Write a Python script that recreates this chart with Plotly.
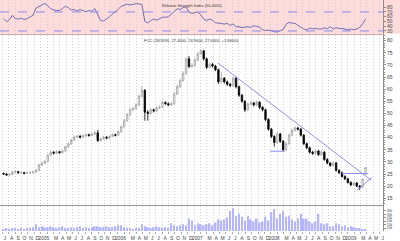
import pandas as pd
import plotly.graph_objects as go

# ---------------- data ----------------
bar_dates = pd.date_range(end="2009-03-26", periods=124, freq="14D")

closes = [25.0, 24.6, 24.8, 25.8, 26.0, 25.5, 25.6, 25.3, 25.5, 25.6,
          25.8, 26.5, 28.7, 29.5, 30.2, 32.8, 34.0, 33.6, 34.2, 33.8,
          34.5, 36.2, 37.5, 39.0, 40.3, 40.6, 40.2, 40.8, 41.2, 40.9,
          41.5, 42.0, 38.8, 39.5, 40.2, 39.8, 40.5, 41.2, 41.0, 42.5,
          44.5, 47.0, 49.5, 51.5, 52.0, 53.5, 57.0, 59.5, 50.5, 50.0,
          51.5, 51.0, 52.3, 52.6, 54.5, 54.0, 53.5, 54.0, 58.0, 61.0,
          63.5, 66.5, 72.5, 69.3, 69.8, 72.0, 74.5, 75.8, 72.5, 69.0,
          70.2, 69.5, 68.0, 63.0, 64.5, 63.0, 62.0, 61.5, 64.5, 61.0,
          57.5, 55.0, 51.5, 53.8, 54.3, 53.5, 54.6, 52.5, 51.5, 47.5,
          43.5, 40.5, 38.0, 41.5, 38.5, 35.0, 37.5, 41.0, 43.0, 44.0,
          43.5, 41.0, 37.5, 35.8, 34.0, 33.5, 34.5, 33.0, 34.0, 31.0,
          29.5, 28.5, 29.5, 26.5, 25.5, 24.0, 23.0, 21.5, 20.5, 21.3,
          20.0, 19.5, 22.8, 27.64]

opens = [25.2, 25.0, 24.6, 24.8, 25.8, 26.0, 25.5, 25.6, 25.3, 25.5,
         25.6, 25.8, 26.5, 28.7, 29.5, 30.2, 32.8, 34.0, 33.6, 34.2,
         33.8, 34.5, 36.2, 37.5, 39.0, 40.3, 40.6, 40.2, 40.8, 41.2,
         40.9, 41.5, 42.0, 38.8, 39.5, 40.2, 39.8, 40.5, 41.2, 41.0,
         42.5, 44.5, 47.0, 49.5, 51.5, 52.0, 53.5, 57.0, 59.5, 50.5,
         50.0, 51.5, 51.0, 52.3, 52.6, 54.5, 54.0, 53.5, 54.0, 58.0,
         61.0, 63.5, 66.5, 72.5, 69.3, 69.8, 72.0, 74.5, 75.8, 72.5,
         69.0, 70.2, 69.5, 68.0, 63.0, 64.5, 63.0, 62.0, 61.5, 64.5,
         61.0, 57.5, 55.0, 51.5, 53.8, 54.3, 53.5, 54.6, 52.5, 51.5,
         47.5, 43.5, 40.5, 38.0, 41.5, 38.5, 35.0, 37.5, 41.0, 43.0,
         44.0, 43.5, 41.0, 37.5, 35.8, 34.0, 33.5, 34.5, 33.0, 34.0,
         31.0, 29.5, 28.5, 29.5, 26.5, 25.5, 24.0, 23.0, 21.5, 20.5,
         21.3, 20.0, 19.5, 24.9]

highs = [25.6, 25.3, 25.2, 26.2, 26.5, 26.3, 26.0, 25.9, 25.9, 26.0,
         26.2, 27.0, 29.2, 30.0, 30.8, 33.3, 34.6, 34.4, 34.8, 34.6,
         35.0, 36.7, 38.0, 39.6, 40.9, 41.1, 41.0, 41.3, 41.7, 41.6,
         42.0, 42.6, 43.2, 40.0, 40.7, 40.6, 41.0, 41.7, 41.6, 43.0,
         45.1, 47.7, 50.2, 52.2, 52.7, 54.2, 57.8, 61.3, 60.0, 51.3,
         52.2, 52.0, 52.9, 53.3, 55.2, 55.0, 54.5, 54.8, 58.8, 61.8,
         64.3, 67.3, 73.2, 73.6, 70.6, 72.8, 75.3, 76.5, 76.2, 73.0,
         71.0, 70.8, 70.0, 68.5, 67.0, 65.0, 63.6, 62.6, 65.2, 65.0,
         61.5, 58.0, 55.5, 54.5, 55.0, 54.8, 55.3, 55.0, 53.0, 52.0,
         48.0, 44.0, 41.0, 42.3, 42.0, 39.0, 38.2, 41.7, 43.7, 44.6,
         44.5, 44.0, 41.5, 38.0, 36.3, 34.6, 35.2, 35.0, 34.7, 34.5,
         31.5, 30.0, 30.2, 30.0, 27.0, 26.0, 24.5, 23.4, 22.0, 21.8,
         21.7, 20.5, 23.3, 27.8]

lows = [24.6, 24.3, 24.2, 24.5, 25.4, 25.1, 25.1, 24.9, 25.0, 25.1,
        25.2, 25.5, 26.2, 28.2, 29.0, 29.8, 32.4, 33.1, 33.2, 33.3,
        33.4, 34.1, 35.8, 37.0, 38.5, 39.8, 39.7, 39.8, 40.3, 40.4,
        40.5, 41.0, 38.2, 38.3, 39.1, 39.3, 39.4, 40.1, 40.5, 40.6,
        42.0, 44.0, 46.5, 49.0, 51.0, 51.5, 53.0, 56.5, 47.0, 47.0,
        49.5, 50.4, 50.6, 51.8, 52.1, 53.5, 53.0, 53.0, 53.5, 57.5,
        60.4, 63.0, 66.0, 68.7, 68.8, 69.2, 71.4, 74.0, 71.8, 68.3,
        68.5, 68.9, 67.4, 62.2, 62.4, 62.3, 61.3, 60.8, 61.0, 60.3,
        56.8, 54.3, 50.6, 51.0, 53.2, 52.9, 53.0, 51.8, 50.8, 46.8,
        42.8, 39.8, 36.3, 37.4, 37.8, 34.3, 34.5, 37.0, 40.5, 42.5,
        42.9, 40.4, 36.9, 35.2, 33.4, 32.9, 33.0, 32.4, 32.5, 30.4,
        29.0, 28.0, 28.1, 26.0, 25.0, 23.5, 22.5, 21.0, 20.0, 20.1,
        19.6, 18.4, 19.2, 24.7]

volumes = [8600, 10000, 8600, 10000, 10000, 8600, 10000, 8600, 10000, 10000,
           11400, 15500, 11400, 12700, 11400, 11400, 12700, 11400, 10000, 11400,
           12700, 10000, 10000, 11400, 10000, 11400, 12700, 10000, 11400, 10000,
           11400, 12700, 12700, 11400, 11400, 12700, 11400, 11400, 12700, 14100,
           14100, 11400, 10000, 10000, 8600, 10000, 10000, 15500, 12700, 11400,
           10000, 11400, 12700, 11400, 10000, 11400, 10000, 16900, 14100, 12700,
           14100, 15500, 14100, 23900, 21100, 14100, 16900, 15500, 14100, 15500,
           16900, 14100, 18300, 22500, 21100, 22500, 25200, 35000, 39100, 28000,
           30800, 26600, 21100, 28000, 22500, 19700, 23900, 18300, 19700, 26600,
           21100, 33600, 37700, 23900, 30800, 35000, 26600, 28000, 22500, 19700,
           23900, 30800, 23900, 23900, 19700, 16900, 19700, 30800, 16900, 15500,
           16900, 12700, 12700, 16900, 15500, 12700, 14100, 11400, 12700, 11400,
           10000, 10000, 8600, 8600]

rsi = [55.8, 49.5, 54.0, 63.0, 56.0, 55.0, 57.0, 54.0, 56.0, 59.0,
       63.0, 78.0, 81.0, 84.0, 88.0, 83.0, 77.0, 74.0, 74.0, 73.0,
       77.0, 82.0, 79.0, 74.0, 75.0, 72.0, 75.0, 72.0, 70.5, 73.0,
       71.0, 77.0, 64.0, 52.0, 51.0, 55.0, 60.0, 65.5, 70.0, 76.0,
       82.0, 85.0, 86.6, 84.4, 86.6, 87.5, 87.0, 86.0, 50.0, 47.0,
       52.0, 55.0, 52.5, 55.5, 59.0, 59.0, 60.0, 65.0, 72.0, 77.0,
       75.0, 79.5, 80.5, 70.0, 67.0, 69.0, 70.0, 64.0, 55.0, 52.0,
       55.0, 52.5, 47.0, 46.5, 46.0, 44.5, 46.0, 41.5, 45.0, 38.5,
       39.0, 37.0, 38.0, 39.0, 37.5, 41.0, 39.5, 38.0, 32.5, 31.0,
       31.5, 31.0, 28.5, 27.5, 30.5, 33.0, 44.0, 48.0, 46.5, 46.0,
       42.0, 38.0, 34.0, 32.0, 36.0, 34.5, 35.5, 34.0, 34.0, 36.5,
       34.5, 39.0, 34.5, 37.0, 35.0, 35.3, 33.5, 32.5, 34.0, 32.5,
       34.0, 37.5, 44.5, 55.4]

month_starts = pd.date_range("2004-07-01", "2009-06-01", freq="MS")
month_labels = ["J", "A", "S", "O", "N", "D",
                "2005", "", "M", "A", "M", "J", "J", "A", "S", "O", "N", "D",
                "2006", "", "M", "A", "M", "J", "J", "A", "S", "O", "N", "D",
                "2007", "", "M", "A", "M", "J", "J", "A", "S", "O", "N", "D",
                "2008", "", "M", "A", "M", "J", "J", "A", "S", "O", "N", "D",
                "2009", "", "M", "A", "M", "J"]

price_ticks = [15, 20, 25, 30, 35, 40, 45, 50, 55, 60, 65, 70, 75, 80]
rsi_ticks = [30, 40, 50, 60, 70, 80]
rsi_levels = [70, 30]
vol_ticks = [10000, 15000, 20000, 25000, 30000, 35000]

trend_x = ["2007-04-23", "2009-04-21"]
trend_y = [70.8, 22.5]
support_x = ["2009-02-14", "2009-04-25"]
support_y = [18.4, 23.5]
floor_x = ["2007-12-28", "2008-03-08"]
floor_y = [34.4, 34.4]
ceiling_x = ["2008-12-04", "2009-04-08"]
ceiling_y = [25.2, 25.2]

price_title = "FCC (26/3/09), 27.4000, 24.9000, 27.6400, +1.84000"
rsi_title = "Relative Strength Index (55.4005)"

# ---------------- figure ----------------
FONT = "Liberation Sans"
GRID = "#cfcfcf"
BLUE = "#8f8ff5"

fig = go.Figure()

fig.add_trace(go.Bar(x=bar_dates, y=volumes, xaxis="x", yaxis="y",
                     marker=dict(color="#b3b6ff", line=dict(width=0)),
                     showlegend=False))

fig.add_trace(go.Candlestick(x=bar_dates, open=opens, high=highs, low=lows, close=closes,
                             xaxis="x2", yaxis="y2", whiskerwidth=0,
                             increasing=dict(line=dict(color="#a0a0a0", width=0.8), fillcolor="white"),
                             decreasing=dict(line=dict(color="black", width=0.8), fillcolor="black"),
                             showlegend=False))

for lx, ly in [(trend_x, trend_y), (support_x, support_y), (floor_x, floor_y), (ceiling_x, ceiling_y)]:
    fig.add_trace(go.Scatter(x=lx, y=ly, xaxis="x2", yaxis="y2", mode="lines",
                             line=dict(color=BLUE, width=1), showlegend=False))

fig.add_trace(go.Scatter(x=bar_dates, y=rsi, xaxis="x3", yaxis="y3", mode="lines",
                         line=dict(color="#6d6db4", width=1), showlegend=False))

x_range = ["2004-06-21", "2009-06-17"]
common_x = dict(type="date", range=x_range, tickmode="array", tickvals=month_starts,
                showgrid=True, gridcolor=GRID, griddash="1px,2px", gridwidth=1,
                zeroline=False, rangeslider=dict(visible=False), fixedrange=True)

y_common = dict(side="right", showgrid=False, zeroline=False, showline=True,
                linecolor="#8c8c8c", linewidth=1, ticks="outside", ticklen=2,
                tickcolor="#8c8c8c", tickfont=dict(family=FONT, size=5, color="#444"))

plot_h = 233.0
fig.update_layout(
    width=400, height=241,
    margin=dict(l=0, r=17, t=0, b=8),
    paper_bgcolor="white", plot_bgcolor="rgba(0,0,0,0)",
    bargap=0.45, showlegend=False,
    xaxis=dict(**common_x, anchor="y", ticktext=month_labels,
               ticks="outside", ticklen=2, tickcolor="#aaa",
               ticklabelshift=3, ticklabelstandoff=0,
               tickfont=dict(family=FONT, size=5, color="#444"), tickangle=0,
               showline=False),
    xaxis2=dict(**common_x, anchor="y2", matches="x", showticklabels=False, ticks="",
                showline=True, linecolor="#999", linewidth=1),
    xaxis3=dict(**common_x, anchor="y3", matches="x", showticklabels=False, ticks="",
                showline=True, linecolor="#d9a3a3", linewidth=1),
    yaxis=dict(**{**y_common, "tickfont": dict(family=FONT, size=3.5, color="#444")},
               domain=[0, 25 / plot_h], range=[5800, 41900],
               tickmode="array", tickvals=vol_ticks),
    yaxis2=dict(**y_common, domain=[26 / plot_h, 198 / plot_h], range=[12.13, 82.45],
                tickmode="array", tickvals=price_ticks,
                minor=dict(dtick=1, ticks="outside", ticklen=1, tickcolor="#8c8c8c")),
    yaxis3=dict(**y_common, domain=[199 / plot_h, 1], range=[24.2, 95.2],
                tickmode="array", tickvals=rsi_ticks),
)

# pink background of the RSI pane
fig.add_shape(type="rect", xref="paper", yref="paper", x0=0, x1=400 / 383,
              y0=199 / plot_h, y1=1, fillcolor="#ffdcdc", line=dict(width=0), layer="below")
for lvl in rsi_levels:
    fig.add_shape(type="line", xref="x3 domain", yref="y3", x0=0, x1=1, y0=lvl, y1=lvl,
                  line=dict(color="#8a8af0", width=1, dash="dash"))

fig.add_annotation(text=rsi_title, xref="paper", yref="paper", x=0.5, y=1,
                   yanchor="top", yshift=-1, showarrow=False,
                   font=dict(family=FONT, size=4, color="#333"))
fig.add_annotation(text=price_title, xref="paper", yref="paper", x=0.5, y=198 / plot_h,
                   yanchor="top", yshift=-1, showarrow=False,
                   font=dict(family=FONT, size=4, color="#333"))

fig.write_html("out.html")
